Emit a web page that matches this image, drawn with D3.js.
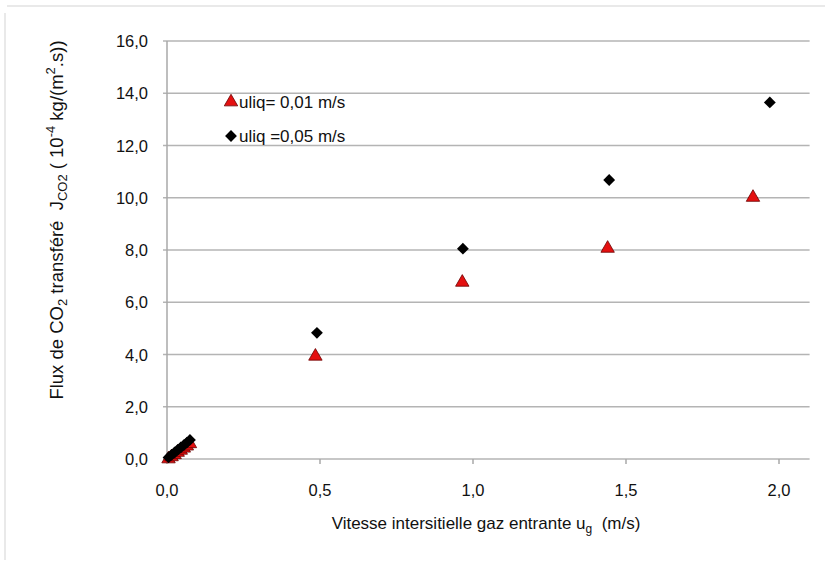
<!DOCTYPE html>
<html>
<head>
<meta charset="utf-8">
<script src="https://cdn.jsdelivr.net/npm/d3@7"></script>
<style>
  body { margin: 0; background: #fff; }
  svg { font-family: "Liberation Sans", Arial, sans-serif; }
</style>
</head>
<body>
<svg id="chart" width="825" height="561"></svg>
<script>
// data
const ugLow = [0.005, 0.015, 0.025, 0.035, 0.045, 0.055, 0.065, 0.075, 0.485, 0.965, 1.44, 1.915];
const fluxLow = [0.04, 0.12, 0.2, 0.29, 0.37, 0.45, 0.53, 0.62, 3.97, 6.8, 8.1, 10.05];
const ugHigh = [0.005, 0.015, 0.025, 0.035, 0.045, 0.055, 0.065, 0.075, 0.49, 0.967, 1.445, 1.97];
const fluxHigh = [0.06, 0.16, 0.25, 0.35, 0.44, 0.53, 0.63, 0.73, 4.83, 8.05, 10.68, 13.65];
const xTicks = [0, 0.5, 1.0, 1.5, 2.0];
const yTicks = [0, 2, 4, 6, 8, 10, 12, 14, 16];
const legendLabels = ["uliq= 0,01 m/s", "uliq =0,05 m/s"];

const svg = d3.select("#chart");
const margin = {left: 167, top: 41, right: 16, bottom: 102};
const W = 825, H = 561;

const x = d3.scaleLinear().domain([0, 2.1]).range([margin.left, margin.left + 306 * 2.1]);
const y = d3.scaleLinear().domain([0, 16]).range([H - margin.bottom, margin.top]);
const fmt = d => d3.format(".1f")(d).replace(".", ",");

// faint outer frame
svg.append("path")
  .attr("d", "M5,560 L5,13 M7,6 L825,6")
  .attr("stroke", "#e2e2e2").attr("fill", "none").attr("stroke-width", 1.5);

// gridlines + left ticks
svg.append("g").selectAll("line").data(yTicks).join("line")
  .attr("x1", x(0) - 4).attr("x2", x(2.1))
  .attr("y1", d => y(d)).attr("y2", d => y(d))
  .attr("stroke", "#b4b4b4").attr("stroke-width", 1.5);

// y axis line
svg.append("line")
  .attr("x1", x(0)).attr("x2", x(0)).attr("y1", y(16)).attr("y2", y(0))
  .attr("stroke", "#a8a8a8").attr("stroke-width", 1.5);

// x ticks
svg.append("g").selectAll("line").data(xTicks).join("line")
  .attr("x1", d => x(d)).attr("x2", d => x(d))
  .attr("y1", y(0)).attr("y2", y(0) + 5)
  .attr("stroke", "#a8a8a8").attr("stroke-width", 1.5);

// tick labels
svg.append("g").selectAll("text").data(yTicks).join("text")
  .attr("x", 148).attr("y", d => y(d) + 6)
  .attr("text-anchor", "end").attr("font-size", 16.5).attr("fill", "#111")
  .text(fmt);

svg.append("g").selectAll("text").data(xTicks).join("text")
  .attr("x", d => x(d)).attr("y", 496)
  .attr("text-anchor", "middle").attr("font-size", 16.5).attr("fill", "#111")
  .text(fmt);

// markers
const tri = d3.symbol().type(d3.symbolTriangle).size(78);
const dia = d3.symbol().type(d3.symbolSquare).size(70);

svg.append("g").selectAll("path").data(ugLow.map((u, i) => [u, fluxLow[i]])).join("path")
  .attr("d", tri)
  .attr("transform", d => `translate(${x(d[0])},${y(d[1]) + 1})`)
  .attr("fill", "#e41010").attr("stroke", "#6a0000").attr("stroke-width", 0.8);

svg.append("g").selectAll("path").data(ugHigh.map((u, i) => [u, fluxHigh[i]])).join("path")
  .attr("d", dia)
  .attr("transform", d => `translate(${x(d[0])},${y(d[1])}) rotate(45)`)
  .attr("fill", "#000");

// legend
const leg = svg.append("g").attr("font-size", 17).attr("fill", "#111");
leg.append("path").attr("d", tri).attr("transform", "translate(231,102)")
  .attr("fill", "#e41010").attr("stroke", "#6a0000").attr("stroke-width", 0.8);
leg.append("path").attr("d", dia).attr("transform", "translate(231,136) rotate(45)").attr("fill", "#000");
leg.append("text").attr("x", 239).attr("y", 108).text(legendLabels[0]);
leg.append("text").attr("x", 239).attr("y", 142).text(legendLabels[1]);

// axis titles
const xt = svg.append("text").attr("x", 486).attr("y", 529)
  .attr("text-anchor", "middle").attr("font-size", 17).attr("fill", "#111")
  .attr("xml:space", "preserve");
xt.append("tspan").text("Vitesse intersitielle gaz entrante u");
xt.append("tspan").attr("font-size", 12).attr("dy", 4).text("g");
xt.append("tspan").attr("dy", -4).text("  (m/s)");

const yt = svg.append("text").attr("transform", "translate(63,220) rotate(-90)")
  .attr("text-anchor", "middle").attr("font-size", 18.5).attr("fill", "#111")
  .attr("xml:space", "preserve");
yt.append("tspan").text("Flux de CO");
yt.append("tspan").attr("font-size", 13).attr("dy", 4).text("2");
yt.append("tspan").attr("dy", -4).text(" transféré  J");
yt.append("tspan").attr("font-size", 13).attr("dy", 4).text("CO2");
yt.append("tspan").attr("dy", -4).text(" ( 10");
yt.append("tspan").attr("font-size", 13).attr("dy", -8).text("-4");
yt.append("tspan").attr("dy", 8).text(" kg/(m");
yt.append("tspan").attr("font-size", 13).attr("dy", -8).text("2");
yt.append("tspan").attr("dy", 8).text(".s))");
</script>
</body>
</html>
